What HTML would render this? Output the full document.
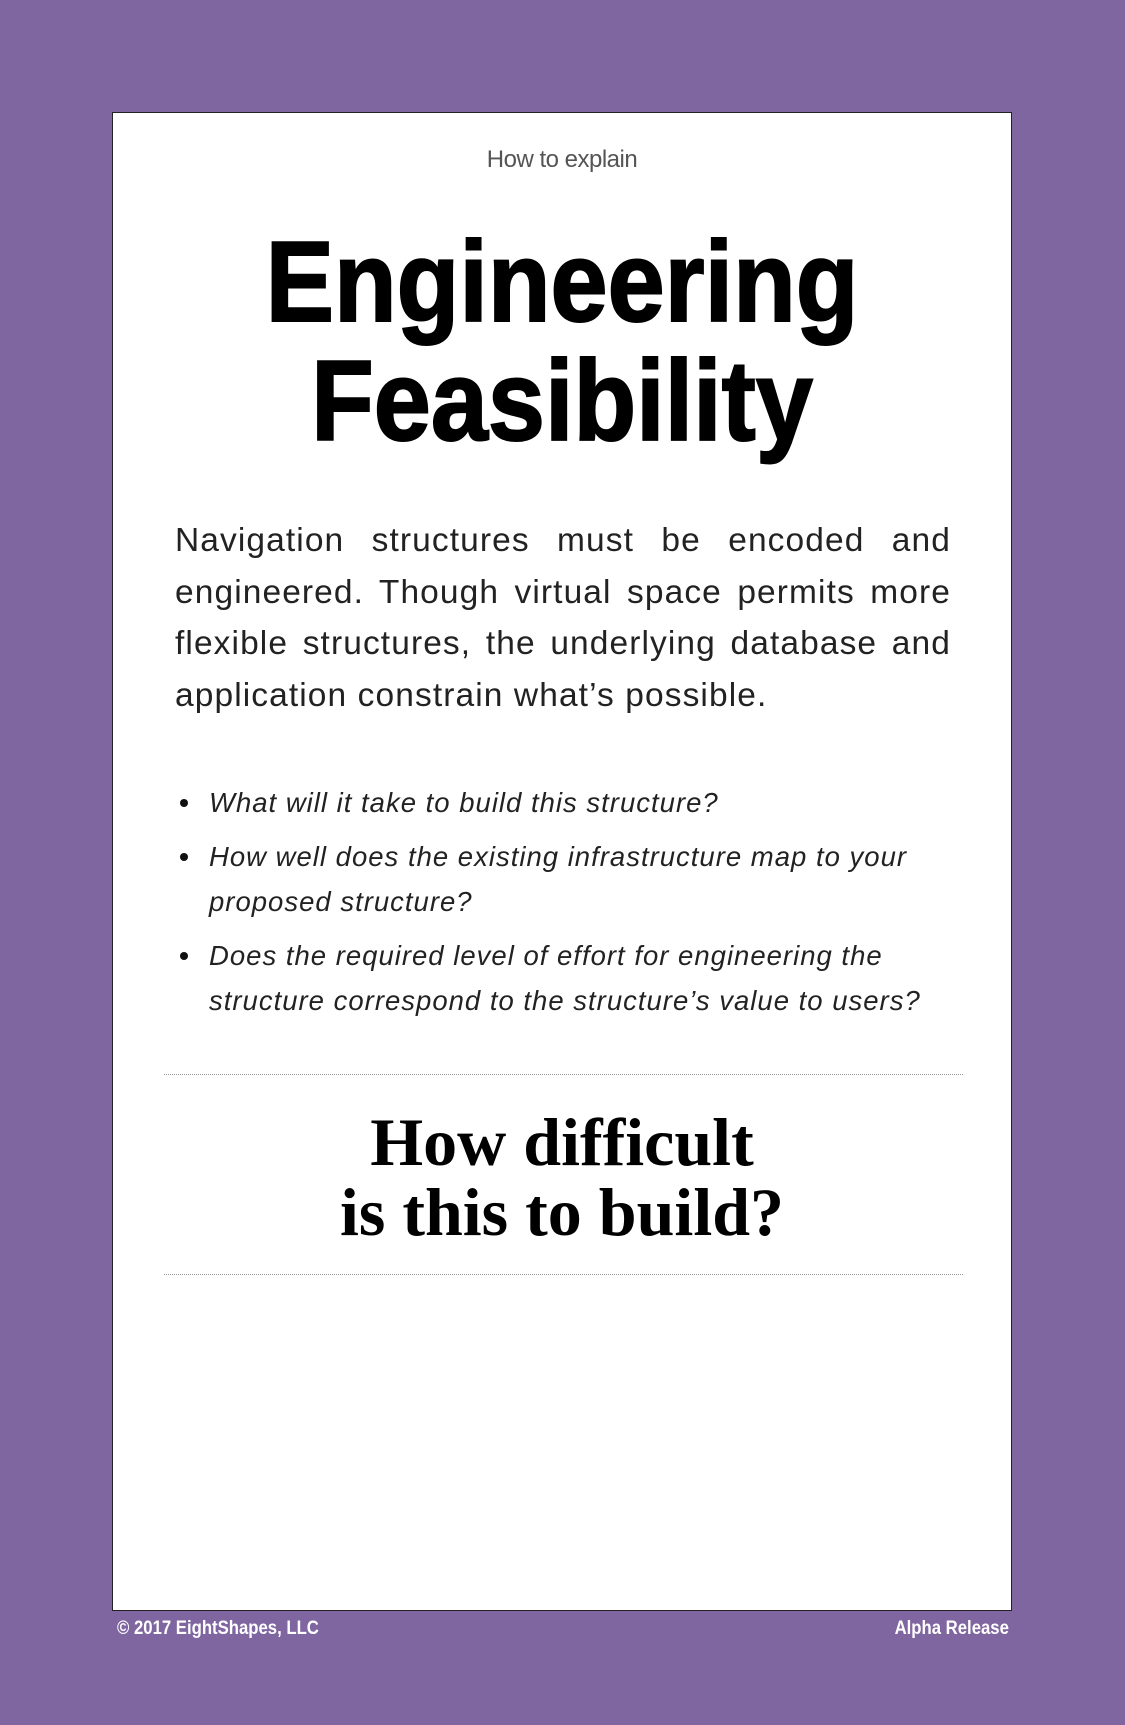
<!DOCTYPE html>
<html><head><meta charset="utf-8"><style>
body{margin:0;width:1125px;height:1725px;background:#8066a1;position:relative;overflow:hidden;font-family:"Liberation Sans",sans-serif}
.card{position:absolute;left:112px;top:112px;width:898px;height:1497px;background:#fff;border:1px solid #222}
.abs{position:absolute;white-space:nowrap}
.t{font-weight:bold;font-size:114px;line-height:1;color:#000;left:0;width:898px;text-align:center;transform:scaleX(.9);transform-origin:center;-webkit-text-stroke:2px #000}
.p{position:absolute;left:62px;width:776px;font-size:33.5px;letter-spacing:1.1px;line-height:51.7px;text-align:justify;color:#222;font-weight:normal}
.b{position:absolute;left:96px;font-size:27.5px;letter-spacing:1px;font-style:italic;line-height:45px;color:#222}
.dot{position:absolute;left:-29px;top:19px;width:8px;height:8px;border-radius:50%;background:#111}
.hr{position:absolute;left:51px;width:799px;border-top:1.5px dotted #999}
.q{position:absolute;left:0;width:898px;text-align:center;font-family:"Liberation Serif",serif;font-weight:bold;font-size:68px;line-height:70px;color:#000}
.f{position:absolute;top:1618px;color:#fff;font-weight:bold;font-size:19px;transform:scaleX(.88)}
</style></head><body>
<div class="card">
<div class="abs" style="left:0;width:898px;text-align:center;top:33px;font-size:24px;color:#555;letter-spacing:-0.5px">How to explain</div>
<div class="abs t" style="top:113px">Engineering</div>
<div class="abs t" style="top:232px">Feasibility</div>
<div class="p" style="top:402px">Navigation structures must be encoded and engineered. Though virtual space permits more flexible structures, the underlying database and application constrain what’s possible.</div>
<div class="b" style="top:667px"><span class="dot"></span>What will it take to build this structure?</div>
<div class="b" style="top:721px"><span class="dot"></span>How well does the existing infrastructure map to your<br>proposed structure?</div>
<div class="b" style="top:820px"><span class="dot"></span>Does the required level of effort for engineering the<br>structure correspond to the structure’s value to users?</div>
<div class="hr" style="top:961px"></div>
<div class="q" style="top:994px">How difficult<br>is this to build?</div>
<div class="hr" style="top:1161px"></div>
</div>
<div class="f" style="left:117px;transform-origin:left">© 2017 EightShapes, LLC</div>
<div class="f" style="right:116px;transform-origin:right">Alpha Release</div>
</body></html>
